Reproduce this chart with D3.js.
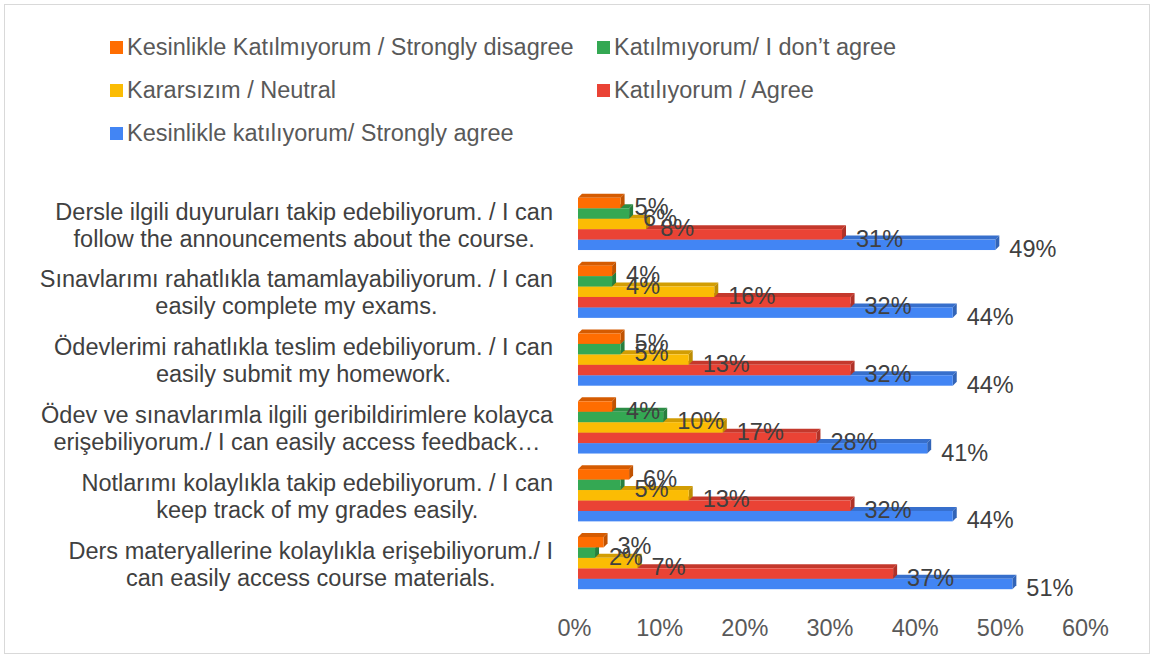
<!DOCTYPE html>
<html>
<head>
<meta charset="utf-8">
<script src="https://cdn.jsdelivr.net/npm/d3@7"></script>
<style>
  body { margin: 0; background: #fff; }
  svg text { font-family: "Liberation Sans", Arial, sans-serif; }
</style>
</head>
<body>
<svg id="chart" width="1154" height="658"></svg>
<script>
// data
var categories = [
  ["Dersle ilgili duyuruları takip edebiliyorum. / I can", "follow the announcements about the course."],
  ["Sınavlarımı rahatlıkla tamamlayabiliyorum. / I can", "easily complete my exams."],
  ["Ödevlerimi rahatlıkla teslim edebiliyorum. / I can", "easily submit my homework."],
  ["Ödev ve sınavlarımla ilgili geribildirimlere kolayca", "erişebiliyorum./ I can easily access feedback…"],
  ["Notlarımı kolaylıkla takip edebiliyorum. / I can", "keep track of my grades easily."],
  ["Ders materyallerine kolaylıkla erişebiliyorum./ I", "can easily access course materials."]
];
var seriesNames = [
  "Kesinlikle Katılmıyorum / Strongly disagree",
  "Katılmıyorum/ I don’t agree",
  "Kararsızım / Neutral",
  "Katılıyorum / Agree",
  "Kesinlikle katılıyorum/ Strongly agree"
];
var stronglyDisagree = [5, 4, 5, 4, 6, 3];
var disagree = [6, 4, 5, 10, 5, 2];
var neutral = [8, 16, 13, 17, 13, 7];
var agree = [31, 32, 32, 28, 32, 37];
var stronglyAgree = [49, 44, 44, 41, 44, 51];
var tickValues = [0, 10, 20, 30, 40, 50, 60];

var colors = ["#ff6d01", "#34a853", "#fbbc04", "#ea4335", "#4285f4"];
var series = [stronglyDisagree, disagree, neutral, agree, stronglyAgree];

var svg = d3.select("#chart");
var width = 1154, height = 658;
var depth = 4;
var fontSize = 23.5;

// chart border
svg.append("rect")
  .attr("x", 4.5).attr("y", 4.5)
  .attr("width", width - 9).attr("height", height - 9)
  .attr("fill", "#fff")
  .attr("stroke", "#d9d9d9");

var x = d3.scaleLinear()
  .domain([0, 60])
  .range([578, 1089]);

var y = d3.scaleBand()
  .domain(d3.range(categories.length))
  .range([190, 597])
  .paddingInner(0.23)
  .paddingOuter(0.115);

var y1 = d3.scaleBand()
  .domain(d3.range(series.length))
  .range([0, y.bandwidth()]);

// bars, drawn bottom series first so upper ones sit in front
var groups = svg.append("g").selectAll("g")
  .data(categories)
  .enter()
    .append("g")
    .attr("transform", function(d, i) { return "translate(0," + y(i) + ")"; });

groups.each(function(c, i) {
  var g = d3.select(this);
  for (var s = series.length - 1; s >= 0; s--) {
    var v = series[s][i];
    var x0 = x(0), x1 = x(v);
    var top = y1(s), h = y1.bandwidth();
    var col = d3.color(colors[s]);
    // top face
    g.append("path")
      .attr("d", "M" + x0 + "," + top + "L" + (x0 + depth) + "," + (top - depth) +
                 "L" + (x1 + depth) + "," + (top - depth) + "L" + x1 + "," + top + "Z")
      .attr("fill", col.darker(0.5));
    // side face
    g.append("path")
      .attr("d", "M" + x1 + "," + top + "L" + (x1 + depth) + "," + (top - depth) +
                 "L" + (x1 + depth) + "," + (top + h - depth) + "L" + x1 + "," + (top + h) + "Z")
      .attr("fill", col.darker(0.8));
    // front face
    g.append("rect")
      .attr("x", x0)
      .attr("y", top)
      .attr("width", x1 - x0)
      .attr("height", h)
      .attr("fill", colors[s]);
  }
});

// data labels
groups.each(function(c, i) {
  var g = d3.select(this);
  series.forEach(function(arr, s) {
    g.append("text")
      .attr("x", x(arr[i]) + depth + 10)
      .attr("y", y1(s) + y1.bandwidth() / 2 + 4)
      .attr("dy", "0.35em")
      .attr("font-size", fontSize)
      .attr("fill", "#404040")
      .text(arr[i] + "%");
  });
});

// category labels: block right aligned, lines centred inside it
categories.forEach(function(lines, i) {
  var cy = y(i) + y.bandwidth() / 2 + 1;
  var t = svg.append("text")
    .attr("font-size", fontSize)
    .attr("fill", "#404040")
    .attr("text-anchor", "middle");
  var spans = lines.map(function(line, k) {
    return t.append("tspan")
      .attr("y", cy + (k - (lines.length - 1) / 2) * 27)
      .attr("dy", "0.35em")
      .text(line);
  });
  var maxW = d3.max(spans, function(sp) { return sp.node().getComputedTextLength(); });
  spans.forEach(function(sp) { sp.attr("x", 553 - maxW / 2); });
});

// x axis
var axis = svg.append("g")
  .attr("transform", "translate(-4,616)")
  .call(d3.axisBottom(x).tickValues(tickValues).tickSize(0).tickFormat(function(d) { return d + "%"; }));
axis.select(".domain").remove();
axis.selectAll("text")
  .attr("font-size", fontSize)
  .attr("font-family", "Liberation Sans, Arial, sans-serif")
  .attr("fill", "#595959")
  .attr("dy", "0.71em");

// legend
var legendPos = [[110, 47], [597, 47], [110, 90], [597, 90], [110, 133]];
var legend = svg.append("g").selectAll("g")
  .data(seriesNames)
  .enter()
    .append("g")
    .attr("transform", function(d, i) { return "translate(" + legendPos[i][0] + "," + legendPos[i][1] + ")"; });

legend.append("rect")
  .attr("x", 0).attr("y", -6)
  .attr("width", 13).attr("height", 13)
  .attr("fill", function(d, i) { return colors[i]; });

legend.append("text")
  .attr("x", 17)
  .attr("dy", "0.35em")
  .attr("font-size", fontSize)
  .attr("fill", "#595959")
  .text(function(d) { return d; });
</script>
</body>
</html>
